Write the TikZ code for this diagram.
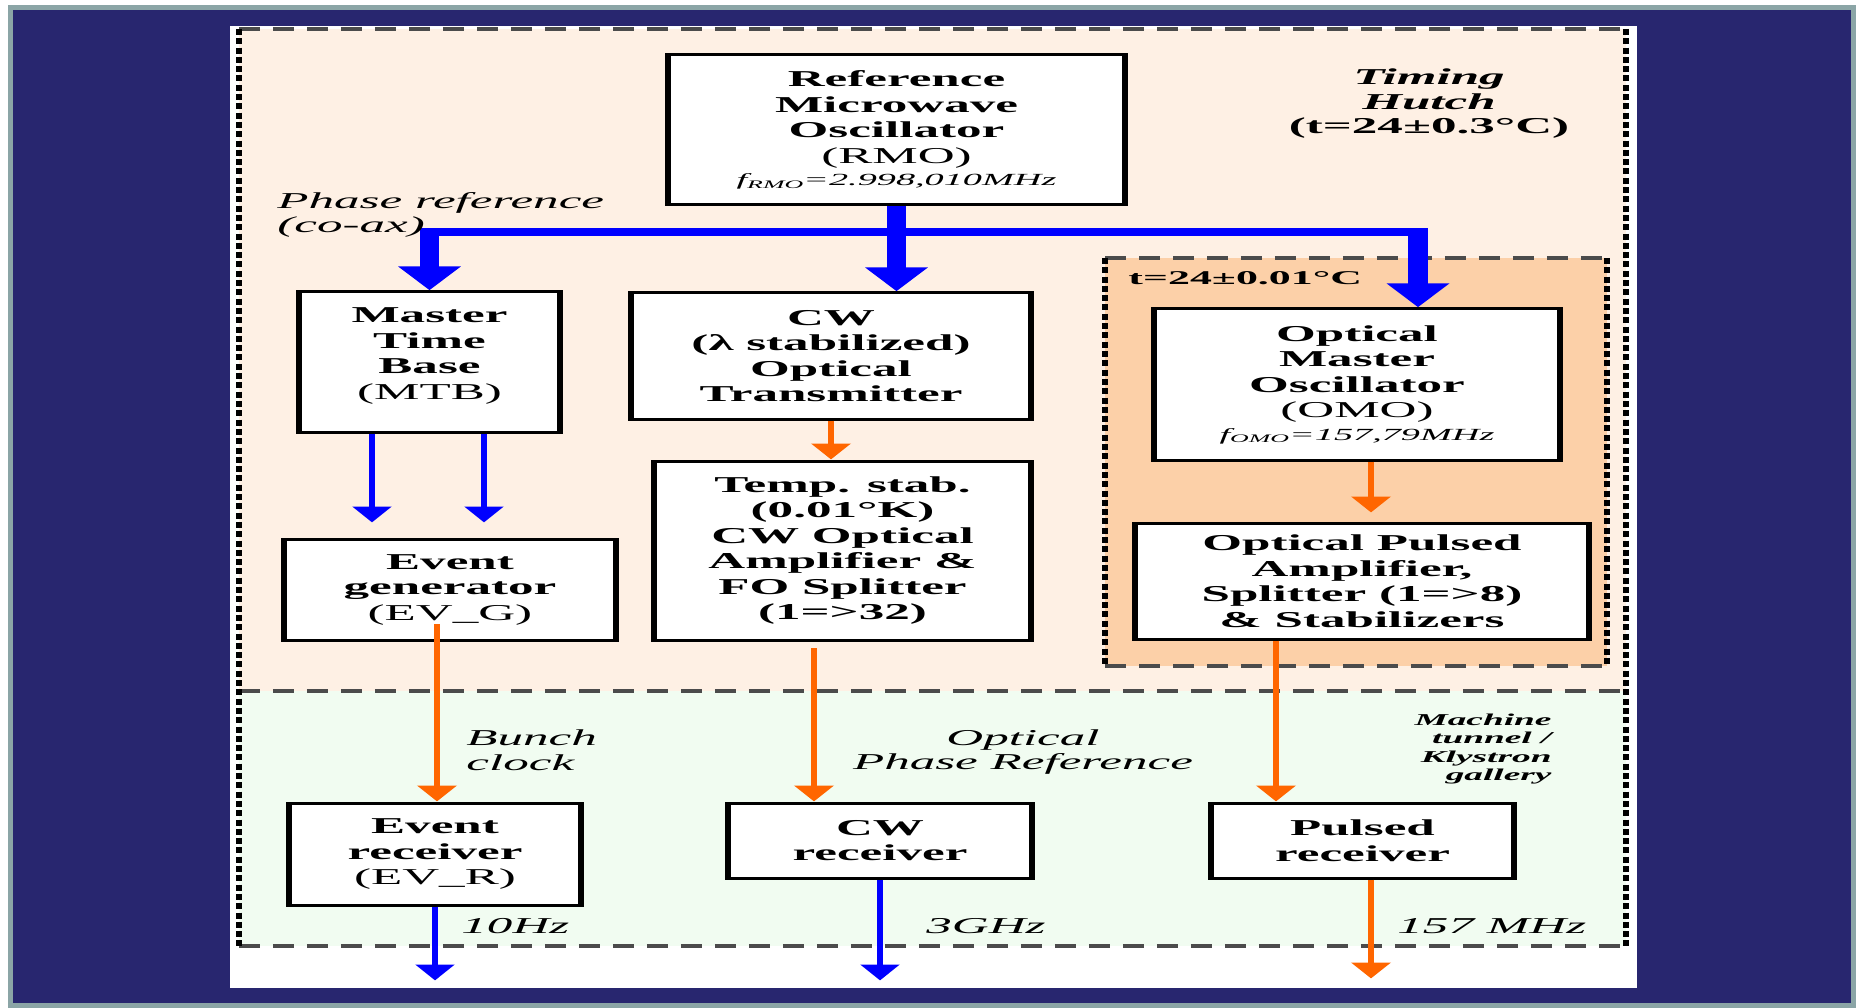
\documentclass[tikz,border=0pt]{standalone}
\usepackage{fontspec}
\setmainfont{Liberation Serif}
\usetikzlibrary{arrows.meta,calc}
\definecolor{navybg}{RGB}{40,38,111}
\definecolor{edgegray}{RGB}{139,165,166}
\definecolor{peachbg}{RGB}{254,240,228}
\definecolor{mintbg}{RGB}{241,252,241}
\definecolor{deeppeach}{RGB}{252,208,168}
\definecolor{dashgray}{RGB}{75,75,75}
\definecolor{arrowblue}{RGB}{0,0,255}
\definecolor{arroworange}{RGB}{255,102,0}
\newcommand\bxfont{\fontsize{22.7}{25.5}\selectfont\bfseries}
\newcommand\lblfont{\fontsize{22.7}{24.5}\selectfont\itshape}
\newcommand\flinefont{\fontsize{17}{20}\selectfont\mdseries\itshape}
\newcommand\fsub[1]{\raisebox{-2.5pt}{\fontsize{11.5}{12}\selectfont #1}}
\tikzset{
  hdash/.style={draw=dashgray, line width=3.3pt, dash pattern=on 9.33pt off 5.78pt},
  vdash/.style={draw=black, line width=2.3pt, dash pattern=on 6pt off 3.3pt},
  box/.style={draw=black, fill=white, line width=3pt, inner sep=0pt, align=center, font=\bxfont},
  thickblue/.style={draw=arrowblue, line width=8.5pt, line join=miter, -{Triangle[width=26pt,length=24pt]}},
  thinblue/.style={draw=arrowblue, line width=3.1pt, -{Triangle[width=16.7pt,length=16pt]}},
  thinorange/.style={draw=arroworange, line width=3.1pt, -{Triangle[width=16.9pt,length=16pt]}},
  lbl/.style={inner sep=0pt, font=\lblfont}
}
\begin{document}
\begin{tikzpicture}[x=1pt,y=-1pt]
\useasboundingbox (0,0) rectangle (1856,1008);
\fill[white] (0,0) rectangle (1856,1008);
\fill[edgegray] (8,5) rectangle (1856,1008);
\fill[navybg] (13,10) rectangle (1851,1003);
\fill[white] (230,26) rectangle (1637,988);
\begin{scope}[transform canvas={xscale=2.25}, x=0.444444pt, y=-1pt]
  % regions
  \fill[peachbg] (239,29) rectangle (1626,691);
  \fill[mintbg] (239,691) rectangle (1626,946);
  \draw[hdash] (239,29) -- (1626,29);
  \draw[hdash] (239,691) -- (1626,691);
  \draw[hdash] (239,946) -- (1626,946);
  \draw[vdash] (239,29) -- (239,946);
  \draw[vdash] (1626,29) -- (1626,946);
  % inner temperature zone
  \fill[deeppeach] (1105,258) rectangle (1607,666);
  \draw[hdash] (1105,258) -- (1607,258);
  \draw[hdash] (1105,666) -- (1607,666);
  \draw[vdash] (1105,258) -- (1105,666);
  \draw[vdash] (1607,258) -- (1607,666);
  % boxes
  \node[box, minimum width=203.1pt, minimum height=150pt] (rmo) at (896.5,130)
    {Reference\\Microwave\\Oscillator\\{\mdseries (RMO)}\\[-3pt]{\flinefont f\fsub{RMO}=2.998,010MHz}};
  \node[box, minimum width=116pt, minimum height=140pt, text depth=17pt] (mtb) at (429.5,362)
    {Master\\Time\\Base\\{\mdseries (MTB)}};
  \node[box, minimum width=177.8pt, minimum height=126pt] (cwt) at (831,356)
    {CW\\(λ stabilized)\\Optical\\Transmitter};
  \node[box, minimum width=167.6pt, minimum height=179pt] (tsa) at (842.5,550.5)
    {Temp. stab.\\(0.01°K)\\CW Optical\\Amplifier \&\\FO Splitter\\(1=>32)};
  \node[box, minimum width=147.6pt, minimum height=101pt] (evg) at (450,589.5)
    {Event\\generator\\{\mdseries (EV\_G)}};
  \node[box, minimum width=180.4pt, minimum height=151pt] (omo) at (1357,384.5)
    {Optical\\Master\\Oscillator\\{\mdseries (OMO)}\\[-3pt]{\flinefont f\fsub{OMO}=157,79MHz}};
  \node[box, minimum width=201.8pt, minimum height=116pt] (opa) at (1362,581)
    {Optical Pulsed\\Amplifier,\\Splitter (1=>8)\\\& Stabilizers};
  \node[box, minimum width=129.8pt, minimum height=102pt] (evr) at (435,854)
    {Event\\receiver\\{\mdseries (EV\_R)}};
  \node[box, minimum width=135.1pt, minimum height=75pt] (cwr) at (880,840.5)
    {CW\\receiver};
  \node[box, minimum width=134.7pt, minimum height=75pt] (pr) at (1362.5,840.5)
    {Pulsed\\receiver};
  % thick phase reference distribution
  \coordinate (jl) at (432,232);
  \coordinate (jr) at (1418,232);
  \draw[thickblue] (rmo.south) -- (rmo.south |- cwt.north);
  \draw[thickblue] (rmo.south |- jl) -| (mtb.north);
  \draw[thickblue] (rmo.south |- jr) -| (jr |- omo.north);
  % thin connectors
  \draw[thinblue] ($(mtb.south)+(-57.5,0)$) -- ++(0,89);
  \draw[thinblue] ($(mtb.south)+(54.5,0)$) -- ++(0,89);
  \draw[thinorange] (cwt.south) -- (cwt.south |- tsa.north);
  \coordinate (omoout) at (1371,460);
  \draw[thinorange] (omo.south -| omoout) -- ++(0,51);
  \coordinate (evgout) at (437,624);
  \draw[thinorange] (evgout) -- (evgout |- evr.north);
  \coordinate (tsaout) at (814,648);
  \draw[thinorange] (tsaout) -- (tsaout |- cwr.north);
  \coordinate (opaout) at (1276,642);
  \draw[thinorange] (opa.south -| opaout) -- (opaout |- pr.north);
  \draw[thinblue] (evr.south) -- ++(0,74);
  \draw[thinblue] (cwr.south) -- ++(0,101);
  \draw[thinorange] ($(pr.south)+(8.5,0)$) -- ++(0,99);
  % labels
  \node[lbl, anchor=west, align=left] (phase) at (277,215) {Phase reference\\(co-ax)};
  \node[inner sep=0pt, align=center, font=\fontsize{22.7}{24.5}\selectfont\bfseries] (hutch) at (1429,104)
    {{\itshape Timing}\\{\itshape Hutch}\\(t=24±0.3°C)};
  \node[inner sep=0pt, anchor=base west, font=\fontsize{19.5}{21}\selectfont\bfseries] (tinner) at (1128,285) {t=24±0.01°C};
  \node[lbl, anchor=west, align=left] (bunch) at (466,750) {Bunch\\clock};
  \node[lbl, align=center] (optref) at (1023,752) {Optical\\Phase Reference};
  \node[inner sep=0pt, anchor=east, align=right, font=\fontsize{16.6}{18.6}\selectfont\bfseries\itshape] (machine) at (1552,749)
    {Machine\\tunnel /\\Klystron\\gallery};
  \node[lbl, anchor=base west] (tenhz) at (461,933) {10Hz};
  \node[lbl, anchor=base west] (threeghz) at (926,933) {3GHz};
  \node[lbl, anchor=base west] (mhz) at (1397,933) {157 MHz};
\end{scope}
\end{tikzpicture}
\end{document}
